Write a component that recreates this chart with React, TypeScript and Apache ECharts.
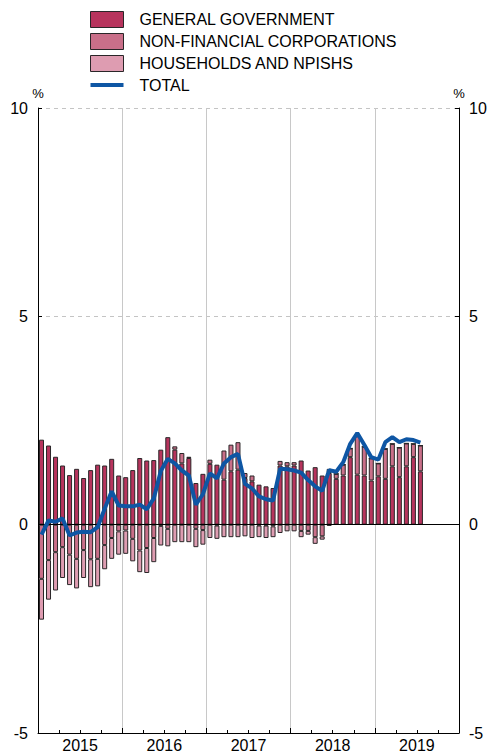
import React, { useEffect, useRef } from "react";
import * as echarts from "echarts";

const years: string[] = ["2015", "2016", "2017", "2018", "2019"];
const months: string[] = [];
years.forEach((y) => {
  for (let m = 1; m <= 12; m++) months.push(`${y}-${m < 10 ? "0" + m : m}`);
});

const generalGovernment: number[] = [
  2.04, 1.9, 1.63, 1.42, 1.19, 1.34, 1.12, 1.31, 1.44, 1.42, 1.58, 1.18,
  1.14, 1.31, 1.6, 1.54, 1.55, 1.8, 2.1, 1.8, 1.47, 1.6, 1.0, 1.22,
  1.46, 1.44, 1.08, 1.28, 1.32, 1.12, 1.04, 0.96, 0.92, 0.88, 1.42, 1.4,
  1.42, 1.54, 1.3, 1.38, 1.18, 1.24, 1.1, 1.18, 1.62, 1.2, 1.18, 1.06,
  1.16, 1.1, 1.4, 1.14, 1.4, 1.62, 1.28,
];

const nonFinancialCorporations: number[] = [
  -1.3, -0.85, -0.66, -0.54, -0.72, -0.82, -0.61, -0.83, -0.82, -0.49, -0.32, -0.16,
  -0.14, -0.34, -0.62, -0.56, -0.32, -0.03, -0.1, 0.08, 0.25, 0.03, -0.1, -0.13,
  0.1, -0.02, 0.7, 0.64, 0.66, 0.12, 0.14, -0.02, -0.02, -0.04, 0.11, 0.1,
  0.08, -0.15, -0.15, -0.3, -0.28, 0.1, 0.12, 0.26, 0.21, 0.92, 0.69, 0.53,
  0.31, 0.72, 0.54, 0.71, 0.55, 0.32, 0.62,
];

const householdsNpishs: number[] = [
  -0.98, -0.95, -0.92, -0.74, -0.73, -0.71, -0.67, -0.67, -0.66, -0.58, -0.5, -0.56,
  -0.56, -0.54, -0.52, -0.6, -0.58, -0.47, -0.42, -0.42, -0.42, -0.42, -0.44, -0.35,
  -0.32, -0.32, -0.3, -0.3, -0.3, -0.28, -0.32, -0.28, -0.3, -0.26, -0.2, -0.16,
  -0.16, -0.15, -0.09, -0.16, -0.08, -0.03, 0, 0, 0, 0, 0, 0,
  0, 0, 0, 0, 0, 0, 0,
];

const total: number[] = [
  -0.24, 0.1, 0.07, 0.15, -0.26, -0.19, -0.17, -0.18, -0.06, 0.38, 0.8, 0.46,
  0.44, 0.44, 0.48, 0.37, 0.63, 1.29, 1.58, 1.47, 1.3, 1.18, 0.48, 0.73,
  1.23, 1.11, 1.47, 1.62, 1.7, 0.98, 0.87, 0.68, 0.61, 0.58, 1.34, 1.33,
  1.3, 1.25, 1.07, 0.92, 0.81, 1.31, 1.27, 1.5, 1.94, 2.2, 1.92, 1.62,
  1.56, 1.98, 2.1, 1.98, 2.05, 2.03, 1.97,
];

const seriesNames: string[] = [
  "GENERAL GOVERNMENT",
  "NON-FINANCIAL CORPORATIONS",
  "HOUSEHOLDS AND NPISHS",
  "TOTAL",
];

const FONT = "'Liberation Sans', Arial, Helvetica, sans-serif";
const C_GG = "#b7345d";
const C_NFC = "#c96f89";
const C_HH = "#de9cb1";
const C_TOTAL = "#0e56a4";
const BORDER = "#2a2628";

export default function App() {
  const ref = useRef<HTMLDivElement>(null);

  useEffect(() => {
    if (!ref.current) return;
    const chart = echarts.init(ref.current, null, { renderer: "svg" });

    const barBase = {
      type: "bar" as const,
      stack: "sectors",
      xAxisIndex: 0,
      yAxisIndex: 0,
      barWidth: 5,
    };

    const yAxisCommon = {
      type: "value" as const,
      min: -5,
      max: 10,
      interval: 5,
      name: "%",
      nameLocation: "end" as const,
      nameGap: 3,
      nameTextStyle: { fontSize: 13, color: "#000000", fontFamily: FONT },
      axisLine: { show: true, lineStyle: { color: "#000", width: 1 } },
      axisTick: { show: true, inside: true, length: 4, lineStyle: { color: "#000" } },
      axisLabel: { fontSize: 16, color: "#000", fontFamily: FONT, margin: 10 },
    };

    chart.setOption({
      animation: false,
      textStyle: { fontFamily: FONT },
      legend: {
        orient: "vertical",
        left: 90,
        top: 11,
        padding: 0,
        itemWidth: 33,
        itemHeight: 16,
        itemGap: 5,
        selectedMode: false,
        textStyle: { fontSize: 16, color: "#000", fontFamily: FONT, padding: [0, 0, 0, 11] },
        data: [
          { name: seriesNames[0], icon: "rect", itemStyle: { borderColor: BORDER, borderWidth: 1 } },
          { name: seriesNames[1], icon: "rect", itemStyle: { borderColor: BORDER, borderWidth: 1 } },
          { name: seriesNames[2], icon: "rect", itemStyle: { borderColor: BORDER, borderWidth: 1 } },
          {
            name: seriesNames[3],
            icon: "path://M0,0H33V4H0Z",
            itemStyle: { color: C_TOTAL, borderWidth: 0 },
          },
        ],
      },
      grid: { left: 38, right: 34, top: 108, bottom: 20, containLabel: false },
      xAxis: [
        {
          type: "category",
          data: months,
          boundaryGap: true,
          position: "bottom",
          axisLine: { show: true, onZero: false, lineStyle: { color: "#000", width: 1 } },
          axisTick: {
            show: true,
            inside: true,
            length: 3,
            interval: (i: number) => i % 3 === 0,
            lineStyle: { color: "#000" },
          },
          axisLabel: { show: false },
          splitLine: { show: false },
        },
        {
          type: "category",
          data: years,
          boundaryGap: true,
          position: "bottom",
          axisLine: { show: false, onZero: false },
          axisTick: { show: true, inside: true, length: 5, lineStyle: { color: "#000" } },
          axisLabel: { show: true, fontSize: 16, color: "#000", fontFamily: FONT, margin: 4 },
          splitLine: { show: true, lineStyle: { color: "#c8c8c8", width: 1 } },
        },
      ],
      yAxis: [
        {
          ...yAxisCommon,
          position: "left",
          splitLine: { show: true, lineStyle: { color: "#c4c4c4", type: [4, 4], width: 1 } },
        },
        {
          ...yAxisCommon,
          position: "right",
          splitLine: { show: false },
        },
      ],
      series: [
        {
          ...barBase,
          name: seriesNames[0],
          data: generalGovernment,
          itemStyle: { color: C_GG, borderColor: BORDER, borderWidth: 1 },
          markLine: {
            silent: true,
            symbol: ["none", "none"],
            label: { show: false },
            lineStyle: { color: "#000", type: "solid", width: 1 },
            data: [{ yAxis: 0 }],
            z: 4,
          },
        },
        {
          ...barBase,
          name: seriesNames[1],
          data: nonFinancialCorporations,
          itemStyle: { color: C_NFC, borderColor: BORDER, borderWidth: 1 },
        },
        {
          ...barBase,
          name: seriesNames[2],
          data: householdsNpishs,
          itemStyle: { color: C_HH, borderColor: BORDER, borderWidth: 1 },
        },
        {
          type: "line",
          name: seriesNames[3],
          xAxisIndex: 0,
          yAxisIndex: 0,
          data: total,
          symbol: "none",
          showSymbol: false,
          z: 10,
          lineStyle: { color: C_TOTAL, width: 4 },
          itemStyle: { color: C_TOTAL },
        },
      ],
    });

    return () => {
      chart.dispose();
    };
  }, []);

  return (
    <div
      ref={ref}
      style={{ position: "fixed", left: 0, top: 0, width: 493, height: 753, background: "#fff" }}
    />
  );
}
